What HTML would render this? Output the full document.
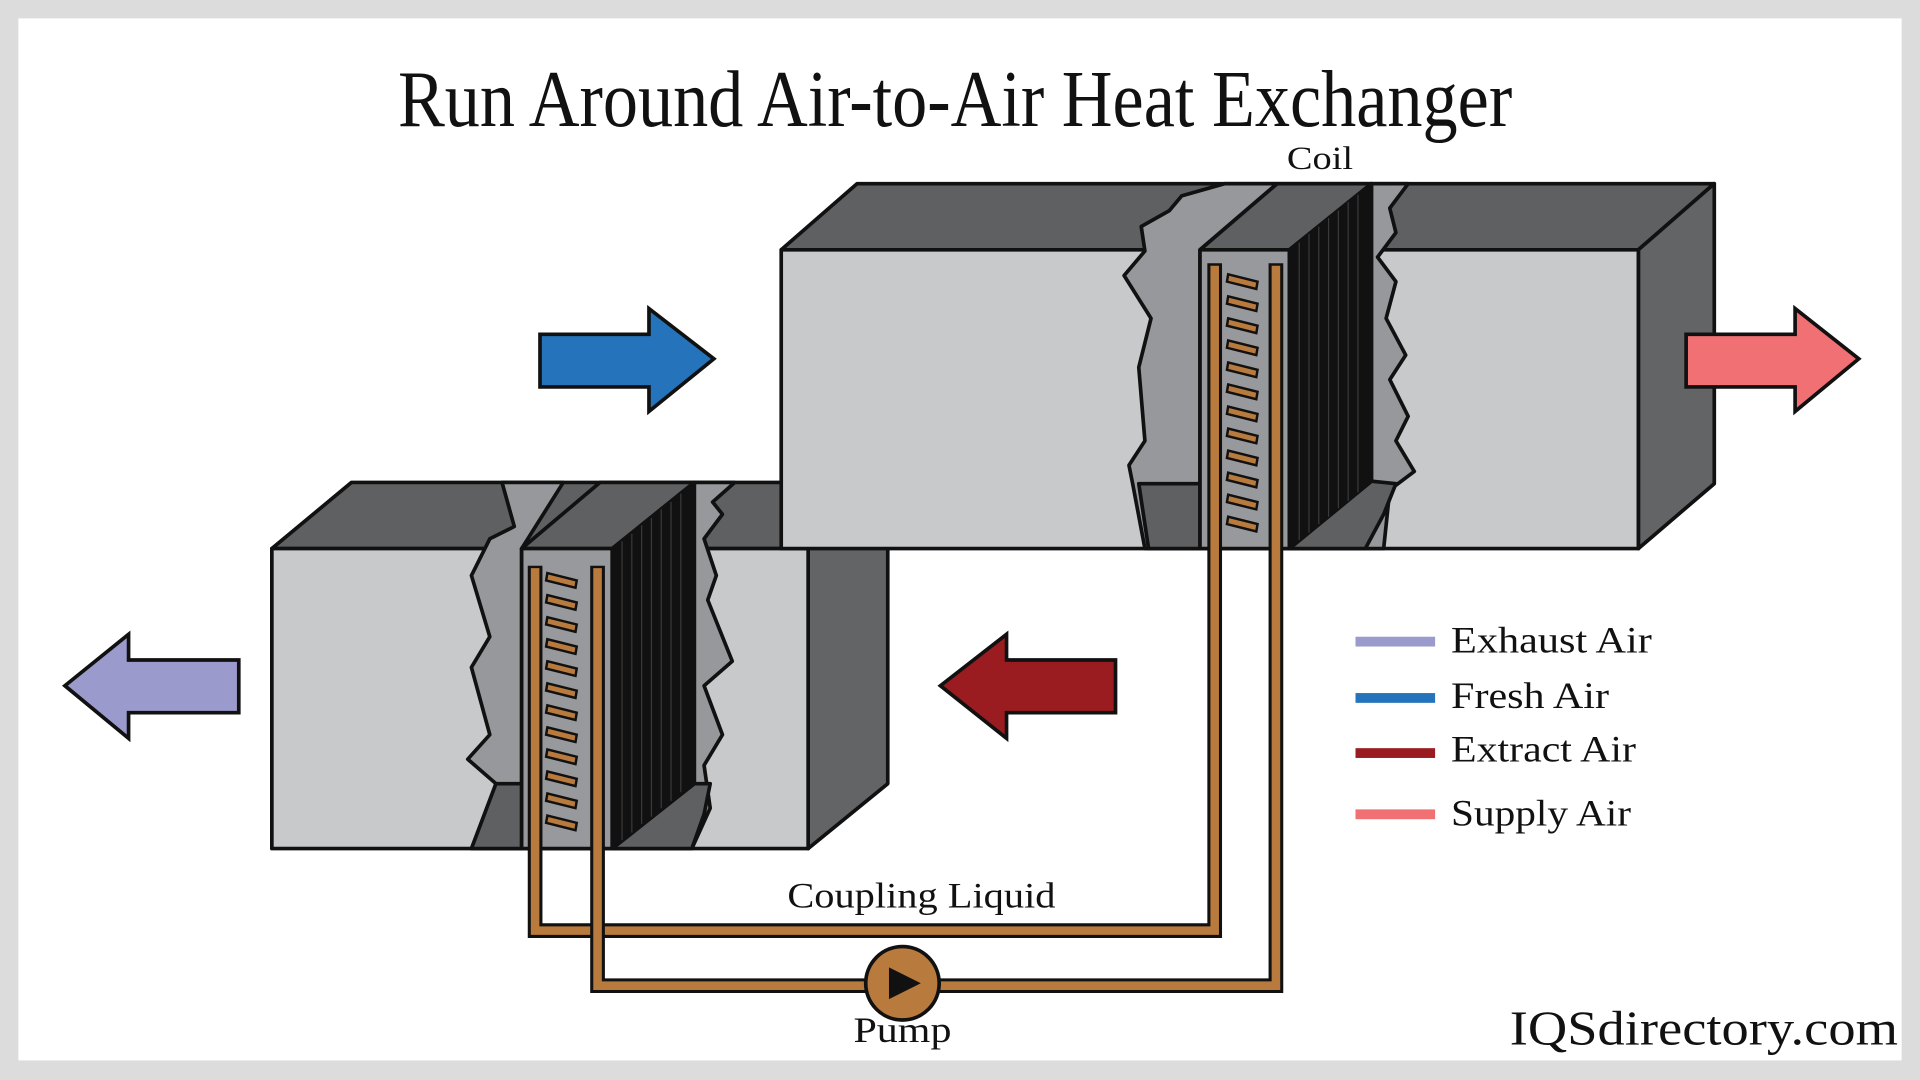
<!DOCTYPE html>
<html><head><meta charset="utf-8"><style>
html,body{margin:0;padding:0;width:1920px;height:1080px;overflow:hidden;background:#dcdcdc}
svg{display:block}
text{font-family:"Liberation Serif","DejaVu Serif",serif;fill:#111}
</style></head><body>
<svg width="1920" height="1080" viewBox="0 0 1568 882" xmlns="http://www.w3.org/2000/svg">
<rect x="0" y="0" width="1568" height="882" fill="#dcdcdc"/>
<rect x="15" y="15" width="1538" height="851" fill="#fff"/>
<text x="780" y="103" font-size="66" text-anchor="middle" textLength="910" lengthAdjust="spacingAndGlyphs">Run Around Air-to-Air Heat Exchanger</text>
<text x="1078" y="138" font-size="27" text-anchor="middle" textLength="54" lengthAdjust="spacingAndGlyphs">Coil</text>

<g stroke="#111" stroke-width="3" stroke-linejoin="round">
<polygon points="222,448 287,394 638,394 660,448" fill="#5f6062"/>
<polygon points="660,448 725,394 725,640 660,693" fill="#636466"/>
<rect x="222" y="448" width="438" height="245" fill="#c8c9cb"/>
<polygon points="410,394 460,394 426,448 426,693 388,693 405,640 382,620 400,600 385,545 400,520 385,470 400,440 420,430" fill="#97989b"/>
<polygon points="385,693 405,640 426,640 426,693" fill="#5f6062"/>
<polygon points="567,394 600,394 582,410 590,420 575,440 585,470 578,490 598,540 575,560 590,600 575,625 580,660 565,693 500,693 567,640" fill="#97989b"/>
<polygon points="500,693 567,640 580,640 575,665 565,693" fill="#5f6062"/>
<polygon points="426,448 490,394 567,394 500,448" fill="#5f6062"/>
<rect x="426" y="448" width="74" height="245" fill="#98999c"/>
<polygon points="500,448 567,394 567,640 500,693" fill="#111"/>
</g>
<g stroke="#3a3a3a" stroke-width="1">
<line x1="508" y1="442" x2="508" y2="686"/><line x1="516" y1="436" x2="516" y2="680"/><line x1="524" y1="429" x2="524" y2="673"/><line x1="532" y1="423" x2="532" y2="667"/><line x1="540" y1="416" x2="540" y2="660"/><line x1="548" y1="410" x2="548" y2="654"/><line x1="556" y1="403" x2="556" y2="647"/>
</g>

<g stroke="#111" stroke-width="3" stroke-linejoin="round">
<polygon points="638,204 700,150 1400,150 1338,204" fill="#5f6062"/>
<polygon points="1338,204 1400,150 1400,395 1338,448" fill="#636466"/>
<rect x="638" y="204" width="700" height="244" fill="#c8c9cb"/>
<polygon points="1000,150 1043,150 980,204 980,448 935,448 925,395 922,380 935,360 930,300 940,260 918,225 935,205 932,185 955,172 965,160" fill="#97989b"/>
<polygon points="930,395 980,395 980,448 938,448" fill="#5f6062"/>
<polygon points="1120,150 1150,150 1135,170 1140,190 1125,210 1140,230 1132,260 1148,290 1135,310 1150,340 1140,360 1155,385 1135,400 1130,448 1053,448 1120,393" fill="#97989b"/>
<polygon points="1053,448 1120,393 1140,395 1130,420 1115,448" fill="#5f6062"/>
<polygon points="980,204 1043,150 1120,150 1053,204" fill="#5f6062"/>
<rect x="980" y="204" width="73" height="244" fill="#98999c"/>
<polygon points="1053,204 1120,150 1120,393 1053,448" fill="#111"/>
</g>
<g stroke="#3a3a3a" stroke-width="1">
<line x1="1061" y1="198" x2="1061" y2="441"/><line x1="1069" y1="191" x2="1069" y2="435"/><line x1="1077" y1="185" x2="1077" y2="428"/><line x1="1085" y1="178" x2="1085" y2="422"/><line x1="1093" y1="172" x2="1093" y2="415"/><line x1="1101" y1="165" x2="1101" y2="409"/><line x1="1109" y1="159" x2="1109" y2="402"/>
</g>

<g fill="#b87a3d" stroke="#111" stroke-width="2">
<g id="finsU">
<polygon points="1003,224 1027,230 1026,236 1002,230"/><polygon points="1003,242 1027,248 1026,254 1002,248"/><polygon points="1003,260 1027,266 1026,272 1002,266"/><polygon points="1003,278 1027,284 1026,290 1002,284"/><polygon points="1003,296 1027,302 1026,308 1002,302"/><polygon points="1003,314 1027,320 1026,326 1002,320"/><polygon points="1003,332 1027,338 1026,344 1002,338"/><polygon points="1003,350 1027,356 1026,362 1002,356"/><polygon points="1003,368 1027,374 1026,380 1002,374"/><polygon points="1003,386 1027,392 1026,398 1002,392"/><polygon points="1003,404 1027,410 1026,416 1002,410"/><polygon points="1003,422 1027,428 1026,434 1002,428"/>
</g>
<use href="#finsU" transform="translate(-556,244)"/>
</g>

<g fill="none" stroke-linejoin="miter">
<path d="M992,215 V760 H437 V462" stroke="#111" stroke-width="12"/>
<path d="M992,217 V760 H437 V464" stroke="#b87a3d" stroke-width="7"/>
<path d="M1042,215 V805 H488 V462" stroke="#111" stroke-width="12"/>
<path d="M1042,217 V805 H488 V464" stroke="#b87a3d" stroke-width="7"/>
</g>
<circle cx="737" cy="803" r="30" fill="#b87a3d" stroke="#111" stroke-width="3"/>
<polygon points="726,790 752,803 726,816" fill="#111"/>

<g stroke="#111" stroke-width="3" stroke-linejoin="miter">
<polygon points="441,273 530,273 530,252 583,293 530,336 530,316 441,316" fill="#2574bb"/>
<polygon points="1377,273 1466,273 1466,252 1518,293 1466,336 1466,316 1377,316" fill="#f07073"/>
<polygon points="911,539 822,539 822,518 768,560 822,603 822,582 911,582" fill="#9b1c20"/>
<polygon points="195,539 105,539 105,518 53,560 105,603 105,582 195,582" fill="#9b9acd"/>
</g>

<rect x="1107" y="520" width="65" height="8" fill="#9b9acd"/>
<rect x="1107" y="566" width="65" height="8" fill="#2574bb"/>
<rect x="1107" y="611" width="65" height="8" fill="#9b1c20"/>
<rect x="1107" y="661" width="65" height="8" fill="#f07073"/>
<text x="1185" y="533" font-size="30" textLength="164" lengthAdjust="spacingAndGlyphs">Exhaust Air</text>
<text x="1185" y="578" font-size="30" textLength="129" lengthAdjust="spacingAndGlyphs">Fresh Air</text>
<text x="1185" y="622" font-size="30" textLength="151" lengthAdjust="spacingAndGlyphs">Extract Air</text>
<text x="1185" y="674" font-size="30" textLength="147" lengthAdjust="spacingAndGlyphs">Supply Air</text>

<text x="643" y="741" font-size="29" textLength="219" lengthAdjust="spacingAndGlyphs">Coupling Liquid</text>
<text x="697" y="851" font-size="29" textLength="80" lengthAdjust="spacingAndGlyphs">Pump</text>
<text x="1233" y="853" font-size="40" textLength="317" lengthAdjust="spacingAndGlyphs">IQSdirectory.com</text>
</svg>
</body></html>
